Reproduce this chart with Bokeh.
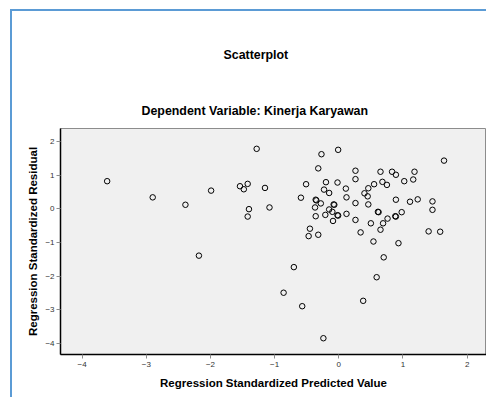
from bokeh.plotting import figure
from bokeh.models import Range1d, Title, FixedTicker
from bokeh.embed import file_html
from bokeh.resources import INLINE

# Regression Standardized Predicted Value
pred = [-3.61, -2.90, -2.39, -1.99, -2.18, -1.54, -1.48, -1.42, -1.40, -1.42,
        -1.28, -1.15, -1.08,
        -0.27, -0.01, -0.32, -0.51, -0.20, -0.02, -0.23, -0.15, 0.11, -0.59,
        -0.36, -0.35, -0.28, -0.08, -0.07, -0.37, -0.15, -0.10, -0.02, -0.01,
        -0.21, -0.36, -0.09, 0.12, 0.26, 0.12, 0.26, 0.26, 0.26, 0.40, 0.46,
        0.45, 0.55, 0.65, 0.68, 0.75, 0.83, 0.89, 1.02, 1.18, 1.16, 0.46,
        0.61, 0.62, 0.89, 1.11, 1.23, 0.98, 0.88, 0.89, 0.76, 0.69, 0.50,
        0.65, 0.34, 0.54, 0.93, 0.70, 1.46, 1.46, 1.40, 1.58, 1.64, -0.45,
        -0.47, -0.32, -0.70,
        0.59, -0.86, 0.38, -0.57, -0.24]

# Regression Standardized Residual
resid = [0.82, 0.34, 0.12, 0.54, -1.39, 0.67, 0.58, 0.74, -0.01, -0.23,
         1.78, 0.62, 0.04,
         1.62, 1.75, 1.20, 0.73, 0.79, 0.78, 0.57, 0.47, 0.60, 0.33,
         0.27, 0.25, 0.16, 0.13, 0.12, 0.04, -0.02, -0.09, -0.19, -0.20,
         -0.18, -0.22, -0.36, 0.34, 0.17, -0.15, -0.33, 1.13, 0.88, 0.46, 0.61,
         0.37, 0.73, 1.10, 0.80, 0.71, 1.10, 1.01, 0.82, 1.10, 0.87, 0.13,
         -0.09, -0.10, 0.27, 0.21, 0.28, -0.10, -0.22, -0.23, -0.29, -0.43, -0.43,
         -0.62, -0.70, -0.97, -1.02, -1.44, 0.22, -0.03, -0.67, -0.68, 1.43, -0.59,
         -0.81, -0.77, -1.73,
         -2.03, -2.49, -2.73, -2.89, -3.84]

x_ticks = [-4, -3, -2, -1, 0, 1, 2]
y_ticks = [-4, -3, -2, -1, 0, 1, 2]

title_text = "Scatterplot"
subtitle_text = "Dependent Variable: Kinerja Karyawan"
x_label = "Regression Standardized Predicted Value"
y_label = "Regression Standardized Residual"

FONT = "Liberation Sans"
BLUE = "#5b9bd5"

p = figure(width=486, height=397, output_backend="svg", toolbar_location=None,
           x_range=Range1d(-4.337, 2.302), y_range=Range1d(-4.323, 2.383),
           min_border_left=60, min_border_right=0, min_border_top=128,
           min_border_bottom=43)

p.background_fill_color = "#f0f0f0"
p.border_fill_color = "white"
p.border_fill_alpha = 0.0
p.outline_line_color = "#8c8c8c"
p.grid.visible = False

p.styles = {
    "background": (f"linear-gradient({BLUE},{BLUE}) 10px 9px / 2px 400px no-repeat, "
                   f"linear-gradient({BLUE},{BLUE}) 10px 9px / 480px 2px no-repeat, "
                   "white"),
}

p.scatter(pred, resid, marker="circle", size=5.5, fill_color=None,
          line_color="black", line_width=1)

for ax, ticks in ((p.xaxis, x_ticks), (p.yaxis, y_ticks)):
    ax.ticker = FixedTicker(ticks=ticks)
    ax.minor_tick_line_color = None
    ax.major_tick_in = 0
    ax.major_tick_out = 4
    ax.major_tick_line_color = "#8c8c8c"
    ax.axis_line_color = "black"
    ax.axis_line_width = 1.5
    ax.major_label_text_font = FONT
    ax.major_label_text_font_size = "8px"
    ax.major_label_text_color = "#333333"
    ax.axis_label_text_font = FONT
    ax.axis_label_text_font_size = "11.5px"
    ax.axis_label_text_font_style = "bold"
    ax.axis_label_text_color = "black"

p.xaxis.axis_label = x_label
p.yaxis.axis_label = y_label
p.xaxis.major_label_standoff = 3
p.yaxis.major_label_standoff = 2
p.xaxis.axis_label_standoff = 7
p.yaxis.axis_label_standoff = 3

sub = Title(text=subtitle_text, align="left", offset=81, standoff=22,
            text_font=FONT, text_font_size="12.4px", text_font_style="bold",
            text_color="black")
ttl = Title(text=title_text, align="left", offset=163, standoff=58,
            text_font=FONT, text_font_size="12.4px", text_font_style="bold",
            text_color="black")
p.add_layout(sub, "above")
p.add_layout(ttl, "above")

open("out.html", "w").write(file_html(p, INLINE))
